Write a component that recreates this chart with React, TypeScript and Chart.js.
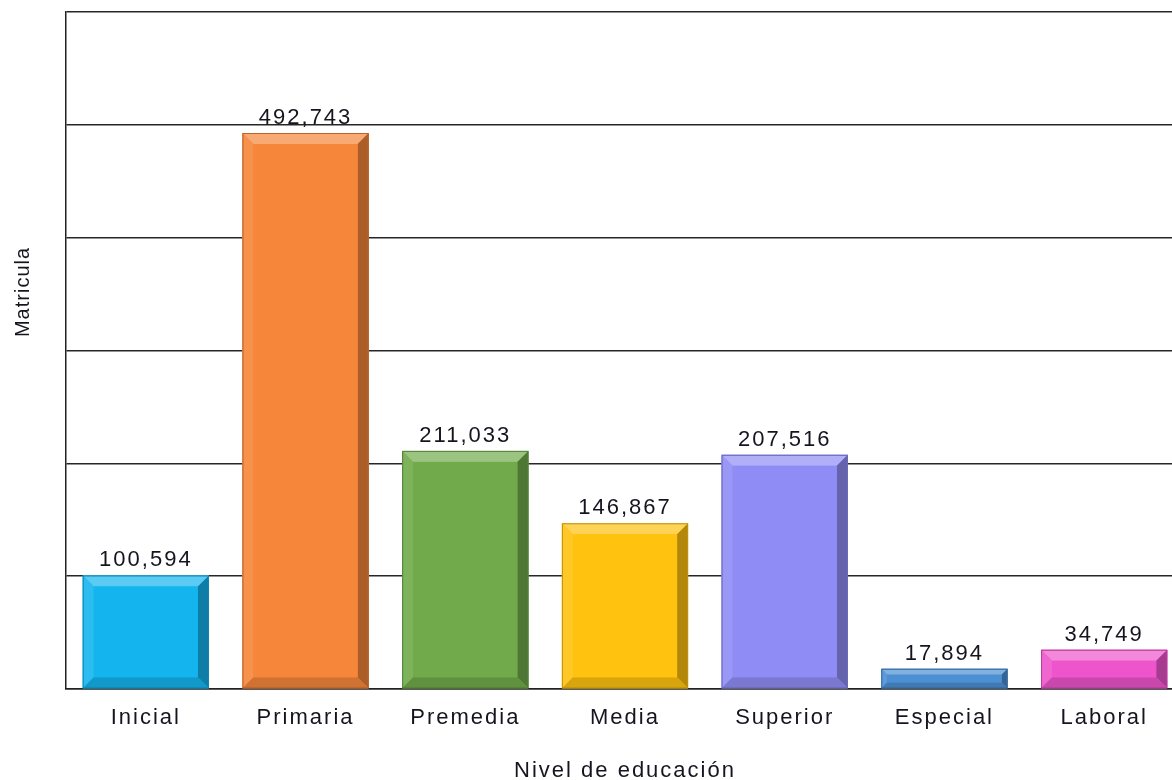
import React, { useEffect, useRef } from "react";
import { Chart, registerables } from "chart.js";

Chart.register(...registerables);

const categories = ["Inicial", "Primaria", "Premedia", "Media", "Superior", "Especial", "Laboral"];
const matricula = [100594, 492743, 211033, 146867, 207516, 17894, 34749];
const barColors = ["#14B4EE", "#F5863A", "#70AA4A", "#FFC20E", "#8F8DF5", "#4C8FD3", "#EE55CC"];
const yMax = 600000;
const yStep = 100000;
const xTitle = "Nivel de educación";
const yTitle = "Matricula";

const FONT = "'Liberation Sans', Arial, sans-serif";
const TEXT = "#15151f";

function hexToRgb(h: string) {
  const n = parseInt(h.slice(1), 16);
  return [(n >> 16) & 255, (n >> 8) & 255, n & 255];
}
function mix(c: string, w: string, t: number) {
  const a = hexToRgb(c);
  const b = hexToRgb(w);
  const r = a.map((v, i) => Math.round(v * (1 - t) + b[i] * t));
  return `rgb(${r[0]},${r[1]},${r[2]})`;
}

const bevelPlugin = {
  id: "bevelBars",
  beforeDraw(chart: any) {
    chart.ctx.letterSpacing = "2px";
  },
  afterDatasetsDraw(chart: any) {
    const ctx = chart.ctx as CanvasRenderingContext2D;
    const meta = chart.getDatasetMeta(0);
    const poly = (pts: number[][], fill: string) => {
      ctx.beginPath();
      ctx.moveTo(pts[0][0], pts[0][1]);
      for (let i = 1; i < pts.length; i++) ctx.lineTo(pts[i][0], pts[i][1]);
      ctx.closePath();
      ctx.fillStyle = fill;
      ctx.fill();
    };
    ctx.save();
    meta.data.forEach((el: any, i: number) => {
      const { x, y, base, width } = el.getProps(["x", "y", "base", "width"], true);
      const l = x - width / 2;
      const r = x + width / 2;
      const t = Math.min(y, base);
      const b = Math.max(y, base);
      const h = b - t;
      const bv = Math.min(11, h * 0.3);
      const c = barColors[i];
      ctx.fillStyle = c;
      ctx.fillRect(l, t, width, h);
      poly([[l, t], [r, t], [r - bv, t + bv], [l + bv, t + bv]], mix(c, "#FFFFFF", 0.3));
      poly([[l, t], [l + bv, t + bv], [l + bv, b - bv], [l, b]], mix(c, "#FFFFFF", 0.1));
      poly([[r, t], [r, b], [r - bv, b - bv], [r - bv, t + bv]], mix(c, "#000000", 0.3));
      poly([[l, b], [r, b], [r - bv, b - bv], [l + bv, b - bv]], mix(c, "#000000", 0.15));
      ctx.fillStyle = c;
      ctx.fillRect(l + bv, t + bv, width - 2 * bv, h - 2 * bv);
      ctx.strokeStyle = mix(c, "#000000", 0.25);
      ctx.lineWidth = 1;
      ctx.strokeRect(l + 0.5, t + 0.5, width - 1, h - 1);

      // value label
      ctx.letterSpacing = "2px";
      ctx.font = `22px ${FONT}`;
      ctx.fillStyle = TEXT;
      ctx.textAlign = "center";
      ctx.textBaseline = "alphabetic";
      ctx.fillText(matricula[i].toLocaleString("en-US"), x, t - 9);
    });
    // y axis title
    ctx.translate(23, 292);
    ctx.rotate(-Math.PI / 2);
    ctx.font = `20px ${FONT}`;
    ctx.letterSpacing = "1px";
    ctx.fillStyle = TEXT;
    ctx.textAlign = "center";
    ctx.textBaseline = "middle";
    ctx.fillText(yTitle, 0, 0);
    ctx.restore();
  },
};

export default function App() {
  const ref = useRef<HTMLCanvasElement>(null);
  useEffect(() => {
    if (!ref.current) return;
    const chart = new Chart(ref.current, {
      type: "bar",
      data: {
        labels: categories,
        datasets: [
          {
            data: matricula,
            backgroundColor: barColors,
            barPercentage: 0.79,
            categoryPercentage: 1,
          },
        ],
      },
      options: {
        responsive: false,
        animation: false,
        devicePixelRatio: 1,
        layout: { padding: { top: 12, right: 6, left: 0, bottom: 0 } },
        plugins: { legend: { display: false }, tooltip: { enabled: false }, title: { display: false } },
        scales: {
          x: {
            grid: { display: false, drawTicks: false },
            border: { display: true, color: "#222", width: 1.5 },
            ticks: {
              color: TEXT,
              font: { family: FONT, size: 22 },
              padding: 16,
              maxRotation: 0,
              autoSkip: false,
            },
            title: {
              display: true,
              text: xTitle,
              color: TEXT,
              font: { family: FONT, size: 22, lineHeight: 0.8 },
              padding: { top: 0, bottom: 0 },
            },
            afterFit: (s: any) => {
              s.height = 91;
            },
          },
          y: {
            min: 0,
            max: yMax,
            ticks: { display: false, stepSize: yStep },
            grid: { color: "#262626", lineWidth: 1.5, drawTicks: false },
            border: { display: true, color: "#222", width: 1.5 },
            afterFit: (s: any) => {
              s.width = 66;
            },
          },
        },
      },
      plugins: [bevelPlugin],
    });
    return () => chart.destroy();
  }, []);
  return (
    <div
      style={{
        position: "fixed",
        left: 0,
        top: 0,
        width: 1172,
        height: 780,
        overflow: "hidden",
        background: "#fff",
      }}
    >
      <canvas ref={ref} width={1190} height={780} style={{ display: "block" }} />
    </div>
  );
}
